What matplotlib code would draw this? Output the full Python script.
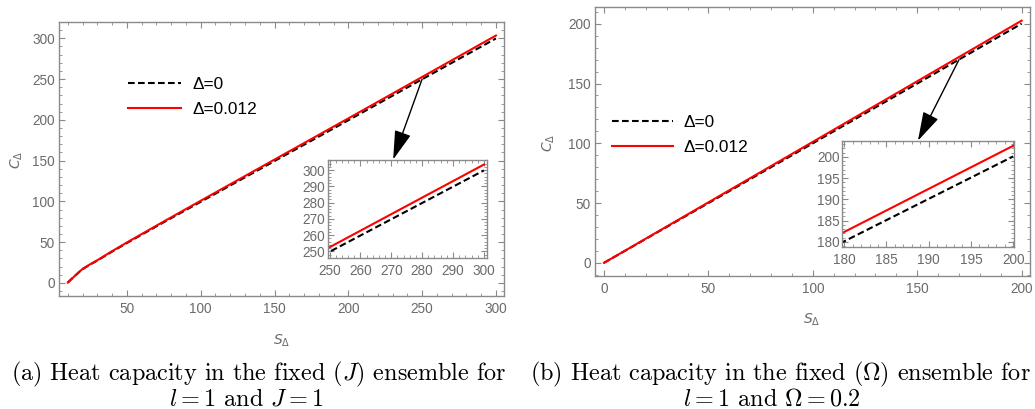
import numpy as np
import matplotlib
matplotlib.use("Agg")
import matplotlib.pyplot as plt
from matplotlib.ticker import MultipleLocator

# panel (a): fixed J ensemble, l = 1, J = 1
s_a = [10, 12, 15, 18, 20, 25, 30, 40, 50, 75, 100, 150, 200, 250, 300]
c_a_0 = [0.5, 4, 9, 14, 17, 22.5, 27.5, 38.5, 49, 74.5, 99.5, 149.5, 199.5, 249.8, 299.8]
c_a_d = [0.5, 4, 9, 14.1, 17.2, 22.8, 27.9, 39, 49.6, 75.4, 100.8, 151.3, 201.8, 252.6, 303.4]

# panel (b): fixed Omega ensemble, l = 1, Omega = 0.2
s_b = [0, 50, 100, 150, 180, 200]
c_b_0 = [0, 50, 100, 150, 180.1, 200.1]
c_b_d = [0, 50.6, 101.2, 151.9, 182.3, 202.6]

labels = ["Δ=0", "Δ=0.012"]

frame = "#8a8a8a"
tickc = "#6b6b6b"
plt.rcParams["font.family"] = ["Liberation Sans", "DejaVu Sans"]

fig = plt.figure(figsize=(10.35, 4.09), dpi=100)


def style(ax, xmaj, xmin, ymaj, ymin, size=9.8, ypad=3, xpad=4.5):
    for sp in ax.spines.values():
        sp.set_color(frame)
        sp.set_linewidth(1.0)
    ax.xaxis.set_major_locator(MultipleLocator(xmaj))
    ax.xaxis.set_minor_locator(MultipleLocator(xmin))
    ax.yaxis.set_major_locator(MultipleLocator(ymaj))
    ax.yaxis.set_minor_locator(MultipleLocator(ymin))
    ax.tick_params(which="both", direction="in", top=True, right=True,
                   color=frame, labelcolor=tickc, labelsize=size)
    ax.tick_params(which="major", length=4, width=0.8)
    ax.tick_params(which="minor", length=2, width=0.6)
    ax.tick_params(axis="y", pad=ypad)
    ax.tick_params(axis="x", pad=xpad)


def draw(ax, s, c0, cd):
    ax.plot(s, c0, color="black", lw=1.5, dashes=(3.2, 1.6), label=labels[0])
    ax.plot(s, cd, color="red", lw=1.5, label=labels[1])


# ---------- (a) ----------
ax1 = fig.add_axes([0.0570, 0.2763, 0.4300, 0.6699])
draw(ax1, s_a, c_a_0, c_a_d)
ax1.set_xlim(4, 305.5)
ax1.set_ylim(-16, 320)
style(ax1, 50, 10, 50, 10)
ax1.set_ylabel(r"$C_\Delta$", color=tickc, fontsize=10, va="center")
ax1.yaxis.set_label_coords(-0.095, 0.496)
ax1.set_xlabel(r"$S_\Delta$", color=tickc, fontsize=10, va="center")
ax1.xaxis.set_label_coords(0.501, -0.162)
ax1.legend(loc="upper left", bbox_to_anchor=(0.155, 0.80), frameon=False,
           fontsize=12.4, handlelength=3.1, handletextpad=0.65,
           labelspacing=0.6, borderpad=0, borderaxespad=0)

in1 = fig.add_axes([0.3169, 0.3692, 0.1536, 0.2408])
draw(in1, s_a, c_a_0, c_a_d)
in1.set_xlim(249.5, 301)
in1.set_ylim(246, 306.5)
style(in1, 10, 2, 10, 2, ypad=2, xpad=4)

ax1.annotate("", xy=(0.41, 1.0), xycoords=in1.transAxes,
             xytext=(250, 250), textcoords="data",
             arrowprops=dict(arrowstyle="-|>,head_length=0.9,head_width=0.26",
                             mutation_scale=20, color="black", lw=1.0,
                             shrinkA=0, shrinkB=0))

# ---------- (b) ----------
ax2 = fig.add_axes([0.5749, 0.3252, 0.4203, 0.6577])
draw(ax2, s_b, c_b_0, c_b_d)
ax2.set_xlim(-4.3, 204)
ax2.set_ylim(-11, 214)
style(ax2, 50, 10, 50, 10)
ax2.set_ylabel(r"$C_\Delta$", color=tickc, fontsize=10, va="center")
ax2.yaxis.set_label_coords(-0.106, 0.494)
ax2.set_xlabel(r"$S_\Delta$", color=tickc, fontsize=10, va="center")
ax2.xaxis.set_label_coords(0.497, -0.164)
ax2.legend(loc="upper left", bbox_to_anchor=(0.040, 0.60), frameon=False,
           fontsize=12.4, handlelength=3.5, handletextpad=0.6,
           labelspacing=0.6, borderpad=0, borderaxespad=0)

in2 = fig.add_axes([0.8140, 0.3954, 0.1657, 0.2606])
draw(in2, s_b, c_b_0, c_b_d)
in2.set_xlim(179.8, 200.1)
in2.set_ylim(178.7, 203.8)
style(in2, 5, 1, 5, 1, ypad=2, xpad=4)

ax2.annotate("", xy=(0.44, 1.0), xycoords=in2.transAxes,
             xytext=(170, 170), textcoords="data",
             arrowprops=dict(arrowstyle="-|>,head_length=0.9,head_width=0.26",
                             mutation_scale=20, color="black", lw=1.0,
                             shrinkA=0, shrinkB=0))

# ---------- captions ----------
cap = dict(family="cmr10", math_fontfamily="cm", fontsize=17.4,
           va="baseline", color="black")
fig.text(259 / 1035, 1 - 380 / 409,
         r"(a) Heat capacity in the fixed $(J)$ ensemble for", ha="center", **cap)
fig.text(246 / 1035, 1 - 406 / 409, r"$l = 1$ and $J = 1$", ha="center", **cap)
fig.text(1031 / 1035, 1 - 380 / 409,
         r"(b) Heat capacity in the fixed $(\Omega)$ ensemble for", ha="right", **cap)
fig.text(772 / 1035, 1 - 406 / 409, r"$l = 1$ and $\Omega = 0.2$", ha="center", **cap)

fig.savefig("out.png", dpi=100)
